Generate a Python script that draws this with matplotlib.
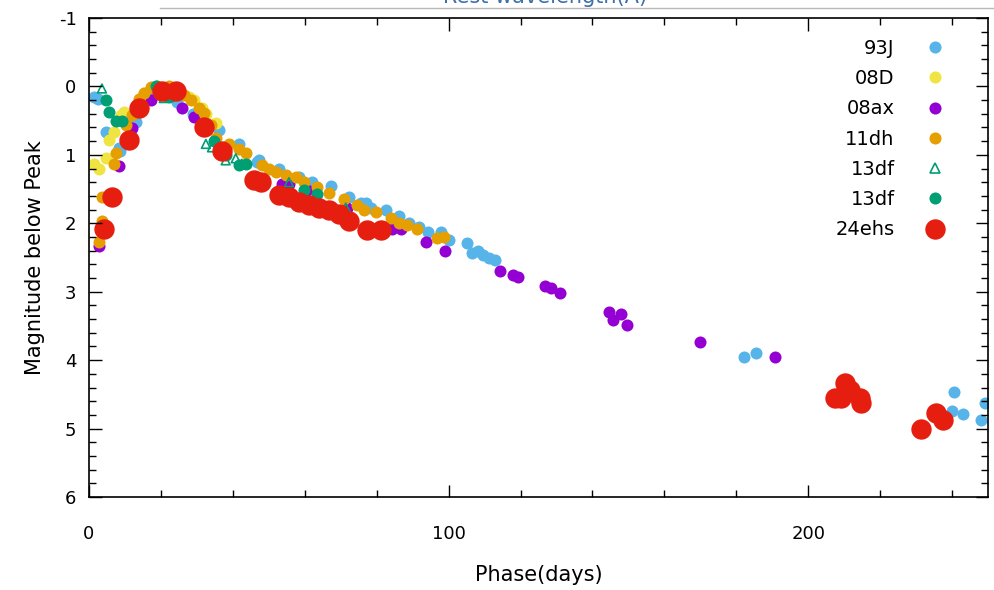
import numpy as np
import matplotlib.pyplot as plt
from matplotlib.ticker import MultipleLocator
from matplotlib.lines import Line2D

plt.rcParams["axes.unicode_minus"] = False

# light-curve points (phase in days, mag below peak)
sn93J_day = [1.4, 2.5, 4.7, 8.6, 8.3, 11.1, 13.0, 16.9, 24.4, 29.0, 36.1, 41.7, 46.7, 47.2,
             52.8, 58.3, 62.0, 67.2, 72.2, 75.6, 76.9, 78.3, 82.5, 86.1, 88.9, 91.7, 94.4,
             98.0, 100.0, 105.0, 106.4, 108.3, 109.5, 111.1, 113.0, 182.2, 185.6, 240.6,
             240.1, 243.1, 248.0, 249.2]
sn93J_mag = [0.16, 0.18, 0.67, 0.94, 0.90, 0.54, 0.52, 0.12, 0.23, 0.40, 0.64, 0.84, 1.10,
             1.08, 1.20, 1.33, 1.40, 1.45, 1.62, 1.70, 1.70, 1.77, 1.81, 1.89, 1.99, 2.06,
             2.13, 2.13, 2.25, 2.29, 2.43, 2.40, 2.47, 2.50, 2.54, 3.96, 3.90, 4.46, 4.74,
             4.78, 4.88, 4.63]

sn08D_day = [1.4, 2.8, 4.7, 5.6, 6.9, 8.9, 9.7, 15.3, 19.0, 27.8, 29.2, 31.4, 32.5, 35.3]
sn08D_mag = [1.13, 1.20, 1.04, 0.79, 0.67, 0.42, 0.38, 0.10, 0.02, 0.16, 0.20, 0.31, 0.40, 0.54]

sn08ax_day = [2.8, 8.3, 11.9, 17.2, 25.8, 29.2, 53.6, 55.6, 60.6, 71.7, 84.2, 86.9, 93.6,
              98.9, 114.4, 118.0, 119.4, 126.7, 128.6, 131.0, 144.7, 145.8, 148.0, 149.7,
              170.0, 190.8]
sn08ax_mag = [2.33, 1.16, 0.61, 0.20, 0.31, 0.45, 1.42, 1.42, 1.52, 1.78, 2.08, 2.09, 2.28,
              2.41, 2.70, 2.76, 2.79, 2.92, 2.95, 3.02, 3.30, 3.42, 3.32, 3.49, 3.74, 3.96]

sn11dh_day = [2.8, 3.6, 3.6, 6.9, 7.5, 10.3, 11.9, 13.9, 15.3, 17.2, 18.9, 22.2, 26.4, 28.3,
              30.6, 31.9, 33.9, 35.3, 38.9, 41.7, 43.6, 48.1, 50.0, 51.9, 54.7, 57.5, 59.7,
              63.3, 66.7, 70.8, 74.4, 76.4, 79.7, 83.9, 86.1, 88.3, 91.1, 96.7, 98.6]
sn11dh_mag = [2.28, 1.96, 1.62, 1.13, 0.98, 0.57, 0.42, 0.18, 0.09, 0.01, -0.01, -0.01, 0.13,
              0.20, 0.31, 0.39, 0.57, 0.75, 0.84, 0.91, 0.98, 1.15, 1.20, 1.25, 1.30, 1.33,
              1.40, 1.47, 1.56, 1.64, 1.74, 1.81, 1.84, 1.93, 1.99, 2.03, 2.08, 2.22, 2.20]

sn13df_tri_day = [3.6, 20.8, 22.5, 32.5, 34.2, 36.0, 38.0, 40.8, 42.5, 55.6, 71.4]
sn13df_tri_mag = [0.03, 0.17, 0.15, 0.84, 0.89, 0.86, 1.08, 1.05, 1.13, 1.40, 1.77]

sn13df_day = [4.7, 5.6, 7.5, 9.2, 18.6, 20.8, 22.2, 34.7, 38.0, 41.7, 43.6, 59.7, 63.3]
sn13df_mag = [0.20, 0.38, 0.50, 0.50, -0.01, 0.13, 0.16, 0.80, 1.00, 1.15, 1.13, 1.52, 1.57]

sn24ehs_day = [4.2, 6.4, 11.1, 13.9, 20.3, 24.2, 31.9, 37.0, 45.8, 47.8, 52.8, 55.6, 58.3,
               61.1, 63.9, 66.7, 69.4, 72.2, 77.2, 81.1, 207.5, 209.2, 210.3, 211.7, 214.4,
               214.7, 231.4, 235.6, 237.5]
sn24ehs_mag = [2.09, 1.61, 0.79, 0.32, 0.06, 0.06, 0.60, 0.94, 1.37, 1.40, 1.59, 1.62, 1.69,
               1.74, 1.78, 1.81, 1.86, 1.96, 2.10, 2.10, 4.55, 4.56, 4.34, 4.44, 4.55, 4.63,
               5.00, 4.77, 4.88]

c_blue, c_yel, c_pur, c_org, c_grn, c_red = "#56b4e9", "#f0e442", "#9400d3", "#e69f00", "#009e73", "#e51e10"

fig = plt.figure(figsize=(9.94, 5.9), dpi=100)
ax = fig.add_axes([89 / 994, 93 / 590, 899 / 994, 479 / 590])

s_small = 75
ax.scatter(sn93J_day, sn93J_mag, s=s_small, color=c_blue, lw=0)
ax.scatter(sn08D_day, sn08D_mag, s=s_small, color=c_yel, lw=0)
ax.scatter(sn08ax_day, sn08ax_mag, s=s_small, color=c_pur, lw=0)
ax.scatter(sn11dh_day, sn11dh_mag, s=s_small, color=c_org, lw=0)
ax.scatter(sn13df_tri_day, sn13df_tri_mag, s=40, marker="^", facecolor="none", edgecolor=c_grn, lw=1.2)
ax.scatter(sn13df_day, sn13df_mag, s=s_small, color=c_grn, lw=0)
ax.scatter(sn24ehs_day, sn24ehs_mag, s=215, color=c_red, lw=0)

ax.set_xlim(0, 250)
ax.set_ylim(6, -1)
ax.xaxis.set_major_locator(MultipleLocator(100))
ax.xaxis.set_minor_locator(MultipleLocator(20))
ax.yaxis.set_major_locator(MultipleLocator(1))
ax.yaxis.set_minor_locator(MultipleLocator(0.2))
ax.tick_params(which="both", direction="in", top=True, right=True, width=1, colors="black")
ax.tick_params(which="major", length=9, labelsize=13)
ax.tick_params(which="minor", length=5)
ax.tick_params(axis="x", which="major", pad=20)
ax.tick_params(axis="y", which="major", pad=9)
for sp in ax.spines.values():
    sp.set_linewidth(1.2)

ax.set_xlabel("Phase(days)", fontsize=15, labelpad=16)
ax.set_ylabel("Magnitude below Peak", fontsize=15, labelpad=10)

handles = [
    Line2D([], [], ls="none", marker="o", ms=8.7, mfc=c_blue, mec="none"),
    Line2D([], [], ls="none", marker="o", ms=8.7, mfc=c_yel, mec="none"),
    Line2D([], [], ls="none", marker="o", ms=8.7, mfc=c_pur, mec="none"),
    Line2D([], [], ls="none", marker="o", ms=8.7, mfc=c_org, mec="none"),
    Line2D([], [], ls="none", marker="^", ms=6.5, mfc="none", mec=c_grn, mew=1.2),
    Line2D([], [], ls="none", marker="o", ms=8.7, mfc=c_grn, mec="none"),
    Line2D([], [], ls="none", marker="o", ms=14.7, mfc=c_red, mec="none"),
]
labels = ["93J", "08D", "08ax", "11dh", "13df", "13df", "24ehs"]
ax.legend(handles, labels, loc="upper right", frameon=False, markerfirst=False,
          fontsize=14, labelspacing=0.58, handletextpad=1.3, handlelength=1.6,
          borderaxespad=0.3, bbox_to_anchor=(0.974, 0.985))

# leftover header from the panel above
fig.add_artist(Line2D([160 / 994, 1.0], [1 - 8 / 590, 1 - 8 / 590], color="#b8b8b8", lw=1))
fig.text(545 / 994, 1 - 3 / 590, "Rest wavelength(Å)", ha="center", va="baseline",
         fontsize=15, color="#3d6fa8")

fig.savefig("out.png", dpi=100)
